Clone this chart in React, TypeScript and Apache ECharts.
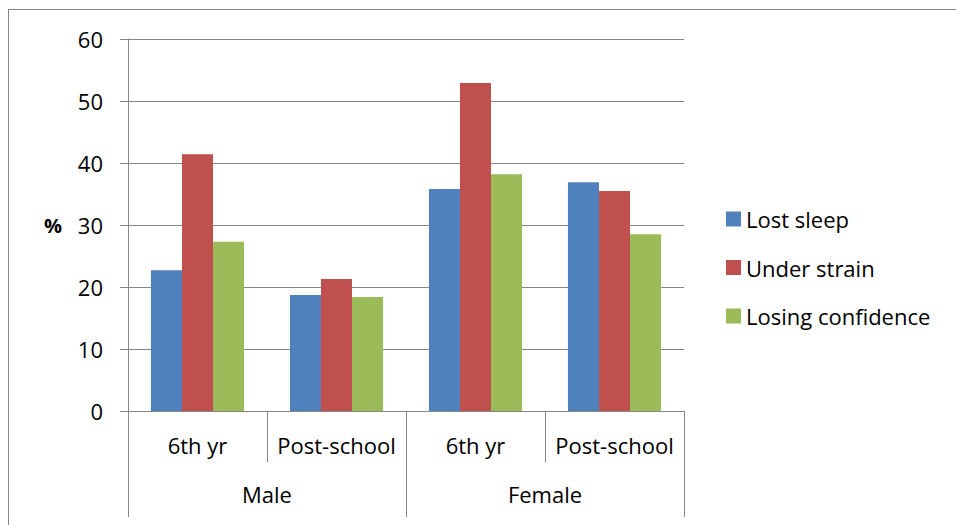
import React, { useEffect, useRef } from "react";
import * as echarts from "echarts";

const categories = ["6th yr", "Post-school", "6th yr", "Post-school"];
const groups = ["Male", "Female"];
const seriesNames = ["Lost sleep", "Under strain", "Losing confidence"];
const lostSleep = [22.7, 18.7, 35.8, 36.9];
const underStrain = [41.4, 21.3, 52.9, 35.5];
const losingConfidence = [27.3, 18.4, 38.2, 28.5];
const colors = ["#4F81BD", "#C0504D", "#9BBB59"];

const FONT = "'Open Sans', 'Noto Sans', sans-serif";
const GRAY = "#868686";

export default function App() {
  const ref = useRef<HTMLDivElement>(null);
  useEffect(() => {
    if (!ref.current) return;
    const chart = echarts.init(ref.current, undefined, { renderer: "svg" });
    const values = [lostSleep, underStrain, losingConfidence];
    chart.setOption({
      animation: false,
      backgroundColor: "#ffffff",
      textStyle: { fontFamily: FONT },
      grid: { left: 128, top: 39, width: 556, height: 372, containLabel: false },
      legend: {
        orient: "vertical",
        left: 726,
        top: 208,
        padding: 0,
        icon: "rect",
        itemWidth: 15,
        itemHeight: 15,
        itemGap: 26.5,
        textStyle: { fontFamily: FONT, fontSize: 22, color: "#000", lineHeight: 22 },
        data: seriesNames,
      },
      xAxis: [
        {
          type: "category",
          data: categories,
          position: "bottom",
          axisLine: { show: true, lineStyle: { color: GRAY, width: 1 } },
          axisTick: { show: true, length: 51, interval: 0, lineStyle: { color: GRAY } },
          axisLabel: { fontFamily: FONT, fontSize: 22, color: "#000", margin: 23, interval: 0 },
        },
        {
          type: "category",
          data: groups,
          position: "bottom",
          axisLine: { show: false },
          axisTick: { show: true, length: 106, interval: 0, lineStyle: { color: GRAY } },
          axisLabel: { fontFamily: FONT, fontSize: 22, color: "#000", margin: 72, interval: 0 },
        },
      ],
      yAxis: {
        type: "value",
        min: 0,
        max: 60,
        interval: 10,
        name: "%",
        nameLocation: "middle",
        nameRotate: 0,
        nameGap: 66,
        nameTextStyle: { fontFamily: FONT, fontSize: 20, fontWeight: "bold", color: "#000" },
        axisLine: { show: true, lineStyle: { color: GRAY, width: 1 } },
        axisTick: { show: true, length: 8, lineStyle: { color: GRAY } },
        axisLabel: { fontFamily: FONT, fontSize: 22, color: "#000", margin: 25 },
        splitLine: { show: true, lineStyle: { color: GRAY, width: 1 } },
      },
      series: seriesNames.map((name, i) => ({
        name,
        type: "bar",
        data: values[i],
        xAxisIndex: 0,
        barGap: "0%",
        barCategoryGap: "33%",
        itemStyle: { color: colors[i] },
      })),
    });
    return () => chart.dispose();
  }, []);
  return (
    <>
      <div
        ref={ref}
        style={{ position: "fixed", left: 0, top: 0, width: 956, height: 525 }}
      />
      <div
        style={{
          position: "fixed",
          left: 8,
          top: 9,
          width: 948,
          height: 516,
          borderLeft: `1px solid ${GRAY}`,
          borderTop: `1px solid ${GRAY}`,
          boxSizing: "border-box",
          pointerEvents: "none",
        }}
      />
    </>
  );
}
